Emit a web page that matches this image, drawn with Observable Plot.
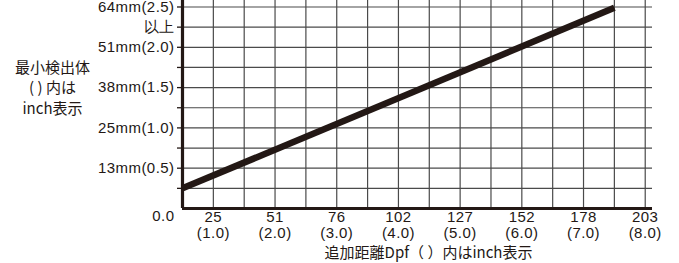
<!DOCTYPE html>
<html>
<head>
<meta charset="utf-8">
<script src="https://cdn.jsdelivr.net/npm/d3@7"></script>
<script src="https://cdn.jsdelivr.net/npm/@observablehq/plot@0.6"></script>
<style>
  html, body { margin: 0; padding: 0; background: #fff; }
  svg { display: block; }
  svg g[aria-label="y-axis tick label"] text,
  svg g[aria-label="x-axis tick label"] text,
  svg .latin text { letter-spacing: 0.45px; }
</style>
</head>
<body>
<div id="chart"></div>
<script>
// Data
const xTickInch = [1, 2, 3, 4, 5, 6, 7, 8];
const xTickMm = [25, 51, 76, 102, 127, 152, 178, 203];
const yTickInch = [0.5, 1.0, 1.5, 2.0, 2.5];
const yTickMm = [13, 25, 38, 51, 64];
const distanceInch = [0.5, 7.5];
const minObjectInch = [0.25, 2.49];
const yTitle = "最小検出体\n( ) 内は\ninch表示";
const xTitle = "追加距離Dpf（ ）内はinch表示";
const overLabel = "以上";
const originLabel = "0.0";

const lineData = distanceInch.map((d, i) => ({x: d, y: minObjectInch[i]}));
const hGrid = d3.range(1, 11).map(i => i * 0.25);
const vGrid = d3.range(2, 17).map(i => i * 0.5);
const yTicksAll = d3.range(1, 11).map(i => i * 0.25);

const ink = "#231815";
const font = "'Liberation Sans', Arial, Helvetica, sans-serif";
const jpFont = "'Noto Sans CJK JP', 'Liberation Sans', sans-serif";

const yFmt = v => {
  const k = yTickInch.findIndex(t => Math.abs(t - v) < 1e-6);
  if (k >= 0) return `${yTickMm[k]}mm(${yTickInch[k].toFixed(1)})`;
  if (Math.abs(v - 2.25) < 1e-6) return overLabel;
  return "";
};
const xFmt = v => {
  const k = xTickInch.indexOf(v);
  return `${xTickMm[k]}\n(${xTickInch[k].toFixed(1)})`;
};

const chart = Plot.plot({
  width: 679,
  height: 263,
  marginLeft: 182,
  marginRight: 27,
  marginTop: 0,
  marginBottom: 55,
  style: {fontFamily: font, fontSize: "15px", color: ink, background: "#fff"},
  x: {domain: [0.5, 8.118]},
  y: {domain: [0, 2.5806]},
  marks: [
    Plot.ruleY(hGrid, {y: d => d, stroke: "#4a4a4a", strokeWidth: 1.2}),
    Plot.ruleX(vGrid, {x: d => d, stroke: "#4a4a4a", strokeWidth: 1.2}),
    Plot.axisY({ticks: yTicksAll, tickFormat: yFmt, tickSize: 5, tickPadding: 3,
      stroke: ink, fill: ink, strokeWidth: 1.3, fontSize: 15, label: null}),
    Plot.axisX({ticks: xTickInch, tickFormat: xFmt, tickSize: 0, tickPadding: 2,
      fill: ink, fontSize: 15, lineHeight: 1.07, label: null}),
    Plot.ruleX([0.5], {stroke: ink, strokeWidth: 3.2}),
    Plot.ruleY([0], {stroke: ink, strokeWidth: 3.2}),
    Plot.line(lineData, {x: "x", y: "y", stroke: ink, strokeWidth: 6.5, strokeLinecap: "butt"}),
    Plot.text([originLabel], {x: 0.5, y: 0, text: d => d, textAnchor: "end", lineAnchor: "top",
      dx: -8, dy: 2, fill: ink, fontSize: 15, className: "latin"}),
    Plot.text([yTitle], {frameAnchor: "left", text: d => d, textAnchor: "middle", lineAnchor: "middle",
      dx: -130, dy: -18, lineHeight: 1.37, fill: ink, fontSize: 15, fontFamily: jpFont}),
    Plot.text([xTitle], {frameAnchor: "bottom", text: d => d, textAnchor: "middle", lineAnchor: "middle",
      dx: 11, dy: 45, fill: ink, fontSize: 15, fontFamily: jpFont})
  ]
});
document.getElementById("chart").appendChild(chart);
</script>
</body>
</html>
